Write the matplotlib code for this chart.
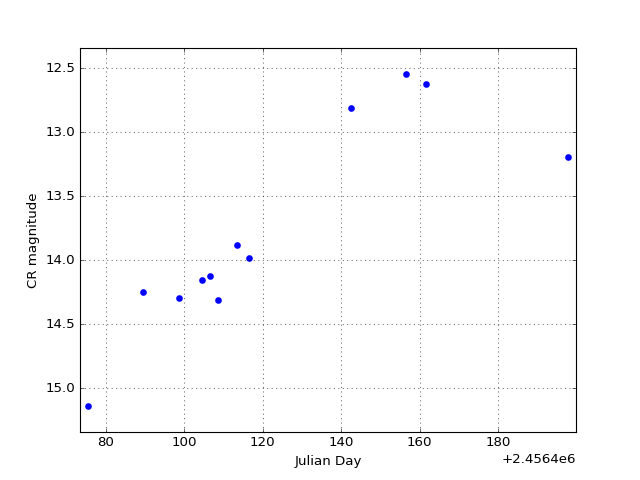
import matplotlib
matplotlib.use("Agg")
import matplotlib.pyplot as plt
import numpy as np

plt.style.use('classic')

jd = [2456475.4, 2456489.4, 2456498.6, 2456504.5, 2456506.6, 2456508.6,
      2456513.4, 2456516.5, 2456542.6, 2456556.6, 2456561.6, 2456597.9]
mag = [15.14, 14.25, 14.29, 14.15, 14.12, 14.31,
       13.88, 13.98, 12.81, 12.54, 12.625, 13.19]

fig = plt.figure(figsize=(8, 6), dpi=80, facecolor='white')
ax = fig.add_subplot(111)
ax.plot(jd, mag, 'o', color='blue', markeredgecolor='none', markersize=6)
ax.set_xlim(min(jd) - 2, max(jd) + 2)
ax.set_ylim(max(mag) + 0.2, min(mag) - 0.2)
ax.xaxis.get_major_formatter().set_useOffset(2456400)
ax.grid(True)
ax.set_xlabel('Julian Day')
ax.set_ylabel('CR magnitude')
fig.savefig('out.png', dpi=80, facecolor='white')
